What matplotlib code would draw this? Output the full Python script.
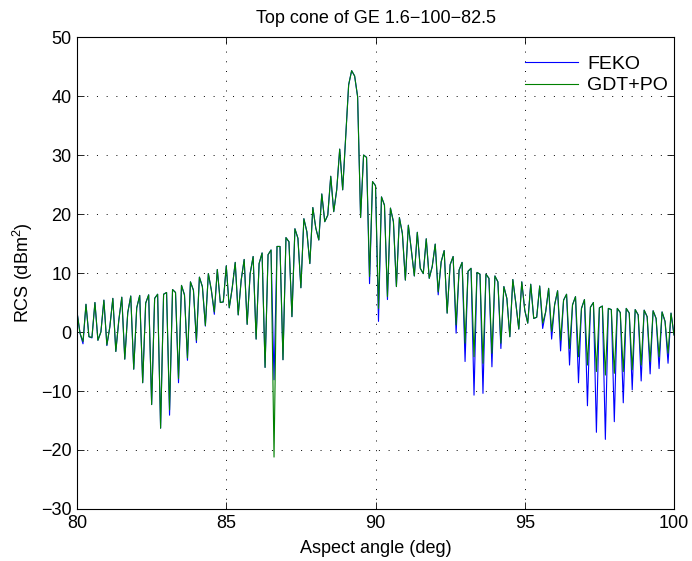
import numpy as np
import matplotlib
matplotlib.use("Agg")
import matplotlib.pyplot as plt

plt.rcParams["font.family"] = ["Liberation Sans", "DejaVu Sans"]
plt.rcParams["mathtext.default"] = "regular"

# aspect angle samples, 0.1 deg step
angle = np.round(np.arange(80.0, 100.0001, 0.1), 1)

# GDT+PO result (dBm^2)
rcs_gdt = [
    3.4, -0.2, -1.6, 4.7, -0.8, -0.9, 5.0, -1.4, 0.0, 5.4,
    -2.2, 0.9, 5.7, -3.3, 2.0, 5.9, -4.6, 3.3, 6.1, -6.3,
    4.1, 6.2, -8.6, 4.9, 6.3, -12.3, 5.7, 6.4, -16.3, 6.4,
    6.7, -13.2, 7.2, 6.7, -7.9, 7.9, 6.3, -4.4, 8.5, 7.1,
    -1.4, 9.3, 7.7, 1.1, 9.9, 7.1, 3.4, 10.6, 5.0, 5.1,
    11.2, 4.1, 7.5, 11.8, 2.9, 8.8, 12.3, 1.3, 9.9, 12.8,
    -1.2, 11.6, 13.4, -6.0, 13.1, 13.9, -21.2, 14.5, 14.5, -4.7,
    16.0, 15.3, 2.6, 17.5, 15.9, 7.5, 19.2, 17.0, 11.6, 21.1,
    17.6, 15.6, 23.4, 18.7, 19.8, 26.4, 20.4, 24.1, 31.0, 24.1,
    33.1, 41.9, 44.3, 43.4, 39.9, 19.4, 30.0, 29.6, 9.4, 25.5,
    24.8, 4.0, 22.9, 21.5, 6.0, 21.0, 18.7, 7.7, 19.4, 16.7,
    8.8, 18.1, 13.9, 9.5, 16.9, 10.8, 9.9, 15.8, 9.1, 11.1,
    14.9, 6.8, 11.9, 13.8, 3.2, 11.4, 12.8, 1.2, 10.5, 11.8,
    -1.9, 10.3, 10.8, -4.2, 10.1, 9.8, -5.3, 9.8, 9.1, -3.6,
    9.5, 8.5, -1.9, 7.7, 5.7, -0.8, 8.9, 4.9, 0.5, 8.5,
    3.7, 1.5, 8.1, 2.3, 2.5, 7.8, 1.5, 3.4, 7.4, 0.1,
    4.6, 7.0, -1.4, 5.4, 6.4, -2.8, 4.6, 6.0, -4.2, 4.0,
    5.5, -5.6, 4.2, 5.0, -6.7, 4.1, 4.4, -7.3, 4.0, 3.8,
    -7.0, 4.0, 3.3, -6.7, 4.0, 3.2, -6.4, 3.8, 2.9, -5.6,
    3.7, 2.6, -5.0, 3.6, 2.3, -4.2, 3.4, 1.8, -3.6, 3.2,
    -0.5,
]

# FEKO reference solution (dBm^2)
rcs_feko = [
    3.4, -0.2, -2.0, 4.7, -0.8, -1.0, 5.0, -1.4, 0.0, 5.4,
    -2.3, 0.9, 5.7, -3.3, 2.0, 5.9, -4.6, 3.3, 6.1, -6.3,
    4.1, 6.2, -8.6, 4.9, 6.3, -12.3, 5.7, 6.4, -16.3, 6.4,
    6.7, -14.1, 7.2, 6.7, -8.6, 7.9, 6.3, -4.8, 8.5, 7.1,
    -1.8, 9.3, 7.7, 1.0, 9.9, 7.1, 3.0, 10.6, 5.0, 5.1,
    11.2, 4.1, 7.5, 11.8, 2.9, 8.8, 12.3, 1.3, 9.9, 12.8,
    -1.2, 11.6, 13.4, -6.0, 13.1, 13.9, -8.1, 14.5, 14.5, -4.7,
    16.0, 15.3, 2.6, 17.5, 15.9, 7.5, 19.2, 17.0, 11.6, 21.1,
    17.6, 15.6, 23.4, 18.7, 19.8, 26.4, 20.4, 24.1, 31.0, 24.1,
    33.1, 41.9, 44.3, 43.4, 39.9, 19.4, 30.0, 29.6, 8.2, 25.5,
    24.8, 1.8, 22.9, 21.5, 5.5, 21.0, 18.7, 7.7, 19.4, 16.7,
    8.8, 18.1, 13.9, 9.5, 16.9, 10.8, 9.9, 15.8, 9.1, 11.1,
    14.9, 6.3, 11.9, 13.8, 3.2, 11.4, 12.8, -0.2, 10.5, 11.8,
    -5.0, 10.3, 10.8, -10.7, 10.1, 9.8, -10.4, 9.8, 9.1, -5.9,
    9.5, 8.5, -2.8, 7.7, 5.7, -0.8, 8.9, 4.9, 0.5, 8.5,
    3.7, 1.5, 8.1, 2.3, 2.5, 7.8, 0.6, 3.4, 7.4, -1.2,
    4.6, 7.0, -3.2, 5.4, 6.4, -5.6, 4.6, 6.0, -8.6, 4.0,
    5.5, -12.5, 4.2, 5.0, -17.0, 4.1, 4.4, -18.2, 4.0, 3.8,
    -15.2, 4.0, 3.3, -12.0, 4.0, 3.2, -9.8, 3.8, 2.9, -8.3,
    3.7, 2.6, -7.1, 3.6, 2.3, -6.2, 3.4, 1.8, -5.3, 3.2,
    -0.5,
]

fig = plt.figure(figsize=(6.92, 5.61), dpi=100)
ax = fig.add_axes([0.1113, 0.0927, 0.8627, 0.8413])

ax.plot(angle, rcs_feko, color="#0000ff", linewidth=0.8, label="FEKO")
ax.plot(angle, rcs_gdt, color="#008000", linewidth=0.8, label="GDT+PO")

ax.set_xlim(80, 100)
ax.set_ylim(-30, 50)
ax.set_xticks([80, 85, 90, 95, 100])
ax.set_yticks(range(-30, 51, 10))
ax.tick_params(direction="in", length=5, width=0.6, top=True, right=True,
               labelsize=13, pad=4)
for sp in ax.spines.values():
    sp.set_linewidth(0.8)

ax.grid(True, color="black", linestyle=(0, (1, 9)), linewidth=0.7)

ax.set_title("Top cone of GE 1.6\u2212100\u221282.5", fontsize=13, pad=10)
ax.set_xlabel("Aspect angle (deg)", fontsize=13, labelpad=6)
ax.set_ylabel("RCS (dBm$^2$)", fontsize=13, labelpad=4)

ax.legend(loc="upper right", bbox_to_anchor=(0.99, 0.962), frameon=False,
          fontsize=14, handlelength=2.75, handletextpad=0.45,
          labelspacing=0.22, borderaxespad=0, borderpad=0)

fig.savefig("out.png", dpi=100, facecolor="white")
